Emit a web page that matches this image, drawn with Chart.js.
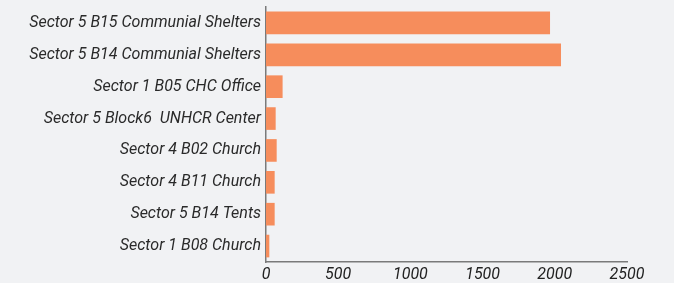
<!DOCTYPE html>
<html>
<head>
<meta charset="utf-8">
<script src="https://cdn.jsdelivr.net/npm/chart.js@4.4.1/dist/chart.umd.min.js"></script>
<style>
html,body{margin:0;padding:0;background:#f1f2f4;}
#wrap{width:674px;height:283px;position:relative;}
</style>
</head>
<body>
<div id="wrap"><canvas id="c" width="674" height="283"></canvas></div>
<script>
const categories = [
  "Sector 5 B15 Communial Shelters",
  "Sector 5 B14 Communial Shelters",
  "Sector 1 B05 CHC Office",
  "Sector 5 Block6  UNHCR Center",
  "Sector 4 B02 Church",
  "Sector 4 B11 Church",
  "Sector 5 B14 Tents",
  "Sector 1 B08 Church"
];
const values = [1967, 2043, 115, 67, 74, 60, 60, 23];
const xTicks = [0, 500, 1000, 1500, 2000, 2500];

new Chart(document.getElementById('c'), {
  type: 'bar',
  data: {
    labels: categories,
    datasets: [{
      data: values,
      backgroundColor: '#f68d5c',
      borderWidth: 0,
      categoryPercentage: 1,
      barPercentage: 0.71
    }]
  },
  options: {
    indexAxis: 'y',
    responsive: false,
    animation: false,
    layout: { padding: { top: 7, right: 47, left: 0, bottom: 0 } },
    plugins: { legend: { display: false }, tooltip: { enabled: false } },
    scales: {
      x: {
        min: 0, max: 2500,
        afterBuildTicks: s => { s.ticks = xTicks.map(v => ({ value: v })); },
        grid: { display: false, drawTicks: false },
        border: { display: true, color: '#7a7a7a', width: 1.5 },
        ticks: {
          padding: 3,
          color: '#222',
          font: { family: 'Roboto', size: 16, style: 'italic' },
          callback: v => String(v)
        },
        afterFit: s => { s.height = 21; s.paddingLeft = 0; s.paddingRight = 0; }
      },
      y: {
        grid: { display: false, drawTicks: false },
        border: { display: true, color: '#7a7a7a', width: 1.5 },
        ticks: {
          padding: 5,
          color: '#2a2a2a',
          font: { family: 'Roboto', size: 16, style: 'italic' }
        },
        afterFit: s => { s.width = 266; s.paddingTop = 0; s.paddingBottom = 0; }
      }
    }
  }
});
</script>
</body>
</html>
